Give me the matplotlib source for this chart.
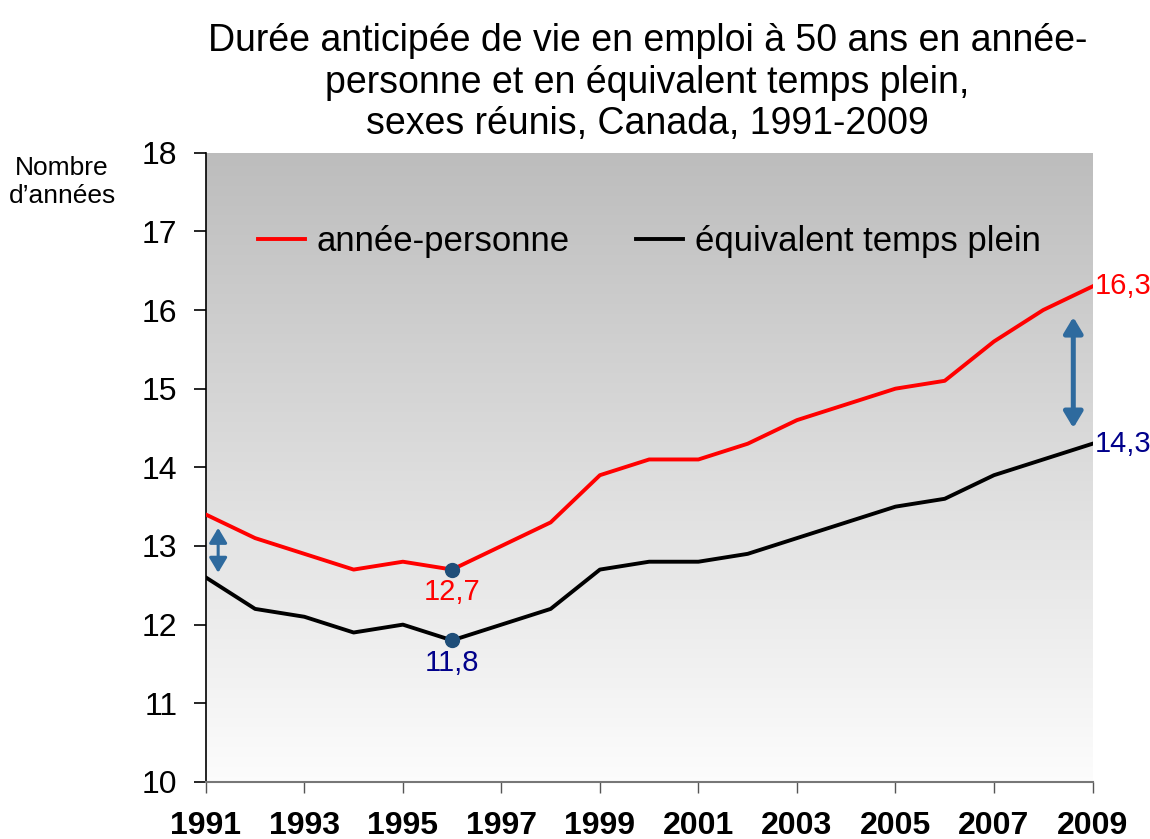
import numpy as np
import matplotlib.pyplot as plt

plt.rcParams['font.family'] = ['Liberation Sans', 'DejaVu Sans']

years = list(range(1991, 2010))
annee_personne = [13.4, 13.1, 12.9, 12.7, 12.8, 12.7, 13.0, 13.3, 13.9, 14.1,
                  14.1, 14.3, 14.6, 14.8, 15.0, 15.1, 15.6, 16.0, 16.3]
equiv_temps_plein = [12.6, 12.2, 12.1, 11.9, 12.0, 11.8, 12.0, 12.2, 12.7, 12.8,
                     12.8, 12.9, 13.1, 13.3, 13.5, 13.6, 13.9, 14.1, 14.3]
tick_years = list(range(1991, 2010, 2))

fig = plt.figure(figsize=(11.5, 8.39), dpi=100)
ax = fig.add_axes([0.179, 0.068, 0.771, 0.75])

# fond dégradé gris (haut) -> blanc (bas)
g = np.linspace(0.74, 0.99, 256).reshape(-1, 1)
grad = np.dstack([g, g, g])
ax.imshow(grad, extent=[0, 1, 0, 1], transform=ax.transAxes,
          aspect='auto', zorder=0, origin='upper')

ax.plot(years, annee_personne, color='#ff0000', lw=2.8, label='année-personne', zorder=3)
ax.plot(years, equiv_temps_plein, color='black', lw=2.8, label='équivalent temps plein', zorder=3)

# points minimum 1996
i96 = years.index(1996)
ax.plot([1996, 1996], [annee_personne[i96], equiv_temps_plein[i96]], 'o',
        color='#1f4e79', ms=10, zorder=4)
ax.text(1996, annee_personne[i96] - 0.11, '12,7', color='#ff0000', fontsize=21,
        ha='center', va='top')
ax.text(1996, equiv_temps_plein[i96] - 0.11, '11,8', color='#00008b', fontsize=21,
        ha='center', va='top')
ax.text(2009.05, annee_personne[-1], '16,3', color='#ff0000', fontsize=21,
        ha='left', va='center', clip_on=False)
ax.text(2009.05, equiv_temps_plein[-1], '14,3', color='#00008b', fontsize=21,
        ha='left', va='center', clip_on=False)

# flèches d'écart
ax.annotate('', xy=(1991.25, 13.23), xytext=(1991.25, 12.66),
            arrowprops=dict(arrowstyle='<|-|>,head_length=0.45,head_width=0.27',
                            color='#2e6a9e', lw=2.2, mutation_scale=20,
                            shrinkA=0, shrinkB=0))
ax.annotate('', xy=(2008.61, 15.91), xytext=(2008.61, 14.5),
            arrowprops=dict(arrowstyle='<|-|>,head_length=0.45,head_width=0.27',
                            color='#2e6a9e', lw=3.6, mutation_scale=21,
                            shrinkA=0, shrinkB=0))

ax.set_xlim(1991, 2009)
ax.set_ylim(10, 18)
ax.set_yticks(range(10, 19))
ax.set_xticks(tick_years)
ax.set_xticklabels([str(y) for y in tick_years], fontsize=23, fontweight='bold')
ax.tick_params(axis='y', labelsize=23, length=8.5, width=1.2, direction='out', pad=12)
ax.tick_params(axis='x', length=8, width=1, direction='out', pad=13, color='#555555')
for s in ['top', 'right']:
    ax.spines[s].set_visible(False)
ax.spines['left'].set_linewidth(1.2)
ax.spines['bottom'].set_color('#777777')
ax.spines['bottom'].set_linewidth(1.5)

leg = ax.legend(loc='upper center', bbox_to_anchor=(0.5, 0.934), ncol=2, frameon=False,
                fontsize=25, handlelength=1.35, columnspacing=1.9, handletextpad=0.35)

fig.text(0.054, 0.783, 'Nombre\nd\u2019années', fontsize=19, ha='center', va='center',
         linespacing=1.25)
fig.suptitle('Durée anticipée de vie en emploi à 50 ans en année-\n'
             'personne et en équivalent temps plein,\n'
             'sexes réunis, Canada, 1991-2009',
             x=0.563, y=0.972, fontsize=27, linespacing=1.18, va='top')

fig.savefig('out.png', dpi=100)
